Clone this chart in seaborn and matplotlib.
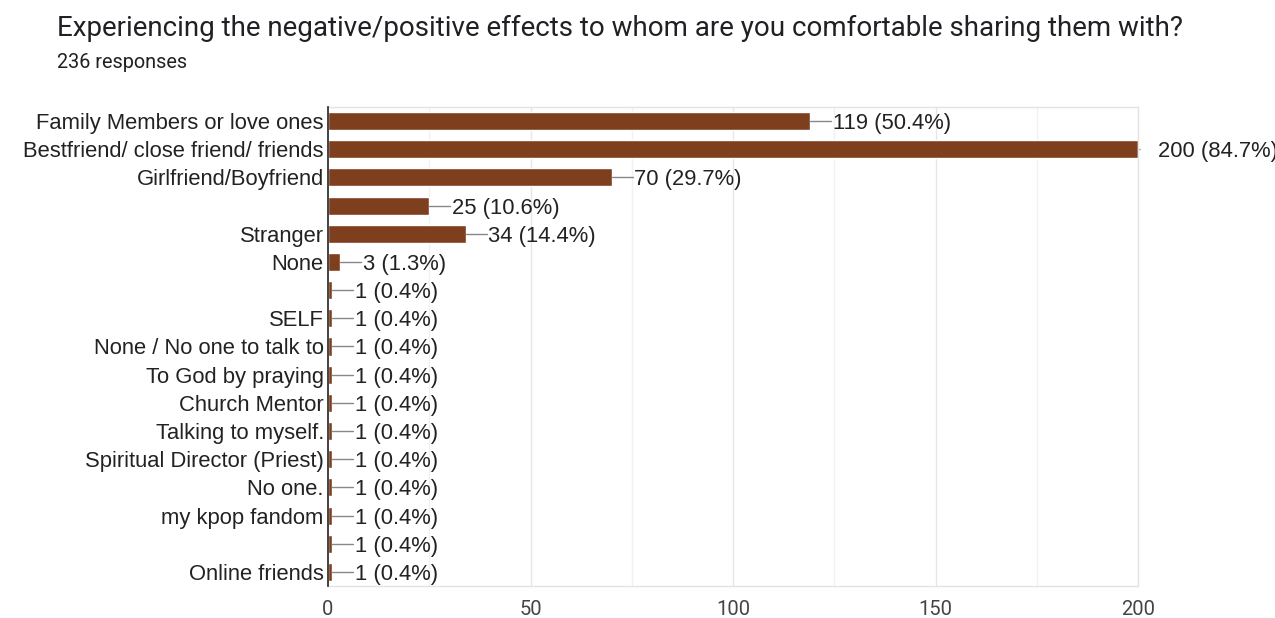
import matplotlib
matplotlib.use("Agg")
import matplotlib.pyplot as plt
import seaborn as sns
import pandas as pd

title = "Experiencing the negative/positive effects to whom are you comfortable sharing them with?"
subtitle = "236 responses"

# Blank answers are kept distinct by their whitespace length
categories = [
    "Family Members or love ones",
    "Bestfriend/ close friend/ friends",
    "Girlfriend/Boyfriend",
    " ",
    "Stranger",
    "None",
    "  ",
    "SELF",
    "None / No one to talk to",
    "To God by praying",
    "Church Mentor",
    "Talking to myself.",
    "Spiritual Director (Priest)",
    "No one.",
    "my kpop fandom",
    "   ",
    "Online friends",
]
counts = [119, 200, 70, 25, 34, 3, 1, 1, 1, 1, 1, 1, 1, 1, 1, 1, 1]
percents = [50.4, 84.7, 29.7, 10.6, 14.4, 1.3, 0.4, 0.4, 0.4, 0.4, 0.4, 0.4,
            0.4, 0.4, 0.4, 0.4, 0.4]
xticks = [0, 50, 100, 150, 200]

df = pd.DataFrame({"answer": categories, "count": counts})

sns.set_theme(style="white")
plt.rcParams["font.family"] = ["Liberation Sans", "DejaVu Sans"]

fig = plt.figure(figsize=(12.75, 6.18), dpi=100)
ax = fig.add_axes([328 / 1275, 1 - 586 / 618, 810 / 1275, 479 / 618])

bar_color = "#7d3f1e"
sns.barplot(data=df, x="count", y="answer", orient="h", color=bar_color,
            saturation=1, width=0.64, ax=ax, order=categories)

ax.set_xlim(0, 200)
ax.set_ylim(len(categories) - 0.5, -0.5)

# Gridlines: major every 50, minor halfway between
for v in [25, 75, 125, 175]:
    ax.axvline(v, color="#f1f1f1", lw=1, zorder=0)
for v in [50, 100, 150]:
    ax.axvline(v, color="#e6e6e6", lw=1, zorder=0)

for side in ["top", "right", "bottom"]:
    ax.spines[side].set_color("#e3e3e3")
    ax.spines[side].set_linewidth(1)
ax.spines["left"].set_color("#222222")
ax.spines["left"].set_linewidth(1.2)
ax.spines["left"].set_zorder(5)

ax.set_xticks(xticks)
ax.set_xticklabels([str(t) for t in xticks], family=["Roboto", "DejaVu Sans"],
                   fontsize=14.5, color="#444444")
ax.tick_params(axis="x", length=0, pad=10)
ax.tick_params(axis="y", length=0, pad=3, labelsize=15.8, labelcolor="#222222")
ax.set_xlabel("")
ax.set_ylabel("")

# Value labels with leader lines
for i, (c, p) in enumerate(zip(counts, percents)):
    text = f"{c} ({p}%)"
    if c >= 200:
        ax.plot([c, c + 0.6], [i, i], color="#aaaaaa", lw=1, clip_on=False)
        ax.text(c + 5, i, text, va="center_baseline", ha="left", fontsize=15.8,
                color="#222222", clip_on=False)
    else:
        ax.plot([c, c + 5.2], [i, i], color="#888888", lw=1, zorder=4)
        ax.text(c + 5.6, i, text, va="center_baseline", ha="left",
                fontsize=15.8, color="#222222")

fig.text(57 / 1275, 1 - 28 / 618, title, family=["Roboto", "DejaVu Sans"],
         fontsize=20, color="#202124", va="center", ha="left")
fig.text(57 / 1275, 1 - 62 / 618, subtitle, family=["Roboto", "DejaVu Sans"],
         fontsize=14.3, color="#202124", va="center", ha="left")

fig.savefig("out.png", dpi=100)
